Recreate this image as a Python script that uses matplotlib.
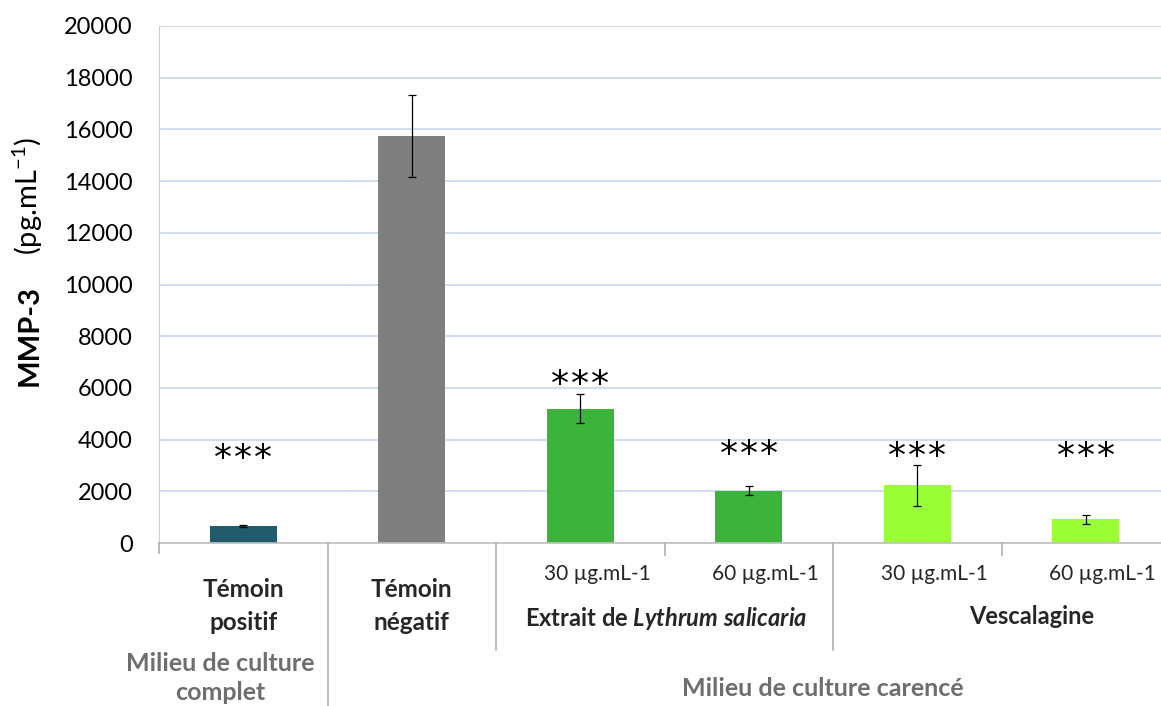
import matplotlib.pyplot as plt
from matplotlib.lines import Line2D
from matplotlib.transforms import blended_transform_factory

plt.rcParams['font.family'] = ['Lato', 'DejaVu Sans']
plt.rcParams['mathtext.fontset'] = 'custom'
plt.rcParams['mathtext.rm'] = 'Lato'
plt.rcParams['mathtext.it'] = 'Lato:italic:bold'
plt.rcParams['mathtext.bf'] = 'Lato:bold'

# MMP-3 concentration (pg/mL), mean and error per condition
conditions = ["Témoin\npositif", "Témoin\nnégatif", "30 µg.mL-1", "60 µg.mL-1",
              "30 µg.mL-1", "60 µg.mL-1"]
mmp3 = [650, 15750, 5200, 2030, 2240, 910]
mmp3_err = [50, 1580, 560, 160, 790, 170]
significance = ["***", "", "***", "***", "***", "***"]
bar_colors = ["#215B6B", "#7F7F7F", "#3CB43C", "#3CB43C", "#9BFF38", "#9BFF38"]
yticks = list(range(0, 20001, 2000))

W, H = 1161, 706
fig = plt.figure(figsize=(W / 100, H / 100), dpi=100)

# axes placed in pixel terms
left, right, top, bottom = 159, 1170, 26, 543
ax = fig.add_axes([left / W, 1 - bottom / H, (right - left) / W, (bottom - top) / H])

x = list(range(len(mmp3)))
ax.bar(x, mmp3, width=0.40, color=bar_colors, zorder=2)
ax.errorbar(x, mmp3, yerr=mmp3_err, fmt='none', ecolor='black',
            elinewidth=0.9, capsize=3.2, capthick=0.9, zorder=3)

ax.set_xlim(-0.5, len(mmp3) - 0.5)
ax.set_ylim(0, 20000)
ax.set_yticks(yticks)
ax.set_yticklabels([str(v) for v in yticks], fontsize=17)
ax.tick_params(axis='y', length=0, pad=19, colors='black')
ax.set_xticks([])
ax.yaxis.grid(True, color='#C8D6EC', linewidth=1.2, zorder=0)
ax.set_axisbelow(True)
for s in ['top', 'right']:
    ax.spines[s].set_visible(False)
ax.spines['left'].set_color('#D0D0D0')
ax.spines['bottom'].set_color('#BFBFBF')
ax.spines['bottom'].set_linewidth(1.2)

# significance stars above bars, each star drawn on its own for wider spacing
star_y = [3250, None, 6100, 3400, 3330, 3330]
for xi, s, sy in zip(x, significance, star_y):
    if not s:
        continue
    for k, off in enumerate((-14.5, 0, 14.5)):
        ax.annotate(s[k], (xi, sy), xytext=(off, 0), textcoords='offset points',
                    ha='center', va='center', fontsize=26, family='DejaVu Sans')

# category labels and separators below the axis
tr = blended_transform_factory(ax.transData, fig.transFigure)


def fy(py):
    return 1 - py / H


def dx(px):
    return (px - left) / 168.5 - 0.5


dividers = [(-0.5, 553), (0.5, 706), (1.5, 650), (2.5, 555), (3.5, 650), (4.5, 555)]
for d, end in dividers:
    fig.add_artist(Line2D([d, d], [fy(bottom), fy(end)], transform=tr,
                          color='#AFAFAF', linewidth=1.2))

lab_kw = dict(transform=tr, ha='center', va='center', fontsize=17.5)
ax.text(0, fy(606), conditions[0], weight='bold', color='#262626',
        linespacing=1.5, **lab_kw)
ax.text(1, fy(606), conditions[1], weight='bold', color='#262626',
        linespacing=1.5, **lab_kw)
for xi in range(2, 6):
    ax.text(xi + 0.1, fy(574), conditions[xi], color='#262626',
            **dict(lab_kw, fontsize=15))

ax.text(dx(666), fy(618), "Extrait de $\\mathit{Lythrum\\ salicaria}$",
        weight='bold', color='#262626', **dict(lab_kw, fontsize=17))
ax.text(dx(1032), fy(617), "Vescalagine", weight='bold', color='#262626',
        **dict(lab_kw, fontsize=17))
ax.text(dx(220), fy(678), "Milieu de culture\ncomplet", weight='bold',
        color='#6E6E6E', linespacing=1.35, **dict(lab_kw, fontsize=18))
ax.text(dx(823), fy(688), "Milieu de culture carencé", weight='bold',
        color='#6E6E6E', **dict(lab_kw, fontsize=18))

# y axis title
fig.text(30 / W, fy(335), "MMP-3", rotation=90, ha='center', va='center',
         fontsize=21, weight='bold')
fig.text(28 / W, fy(196), "(pg.mL$^{\\mathregular{-1}}$)", rotation=90,
         ha='center', va='center', fontsize=21)

fig.savefig("out.png", dpi=100)
